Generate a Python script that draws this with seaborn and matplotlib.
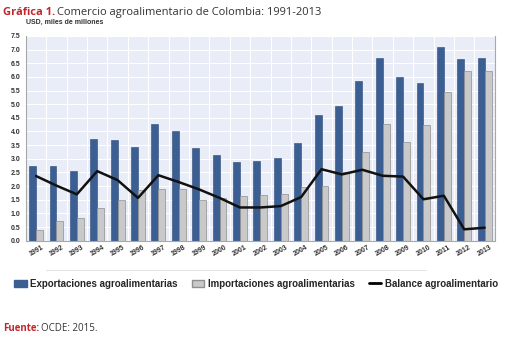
import numpy as np
import pandas as pd
import seaborn as sns
import matplotlib.pyplot as plt
from matplotlib.patches import Patch
from matplotlib.lines import Line2D

# datos (USD, miles de millones)
years = [str(y) for y in range(1991, 2014)]
exportaciones = [2.75, 2.73, 2.56, 3.73, 3.68, 3.42, 4.28, 4.03, 3.38, 3.13, 2.88, 2.92,
                 3.02, 3.58, 4.62, 4.93, 5.85, 6.68, 5.98, 5.78, 7.10, 6.67, 6.70]
importaciones = [0.38, 0.72, 0.85, 1.19, 1.48, 1.85, 1.88, 1.88, 1.50, 1.57, 1.65, 1.68,
                 1.73, 1.97, 2.00, 2.50, 3.25, 4.28, 3.62, 4.25, 5.45, 6.22, 6.22]
balance = [2.37, 2.02, 1.70, 2.55, 2.22, 1.57, 2.40, 2.15, 1.88, 1.57, 1.22, 1.22,
           1.27, 1.60, 2.62, 2.43, 2.60, 2.38, 2.35, 1.52, 1.65, 0.42, 0.48]
series = ['Exportaciones agroalimentarias', 'Importaciones agroalimentarias']

azul = '#3b5f93'
gris = '#c9c9c9'
rojo = '#c0282d'

df = pd.DataFrame({'Año': years * 2,
                   'Valor': exportaciones + importaciones,
                   'Serie': [series[0]] * len(years) + [series[1]] * len(years)})

sns.set_style('white')
plt.rcParams['font.family'] = ['Liberation Sans', 'DejaVu Sans']

fig = plt.figure(figsize=(5.07, 3.48), dpi=100)
ax = fig.add_axes([0.051, 0.308, 0.925, 0.589])
ax.set_facecolor('#e9edf7')

sns.barplot(data=df, x='Año', y='Valor', hue='Serie', palette=[azul, gris],
            width=0.68, ax=ax, legend=False, saturation=1)
for p in ax.patches[len(years):2 * len(years)]:
    p.set_edgecolor('#8f8f8f')
    p.set_linewidth(0.5)
for p in ax.patches[:len(years)]:
    p.set_edgecolor('#2c4a78')
    p.set_linewidth(0.4)

sns.lineplot(x=np.arange(len(years)), y=balance, color='#111111', lw=1.8, ax=ax)

ax.set_ylim(0, 7.5)
ax.set_xlim(-0.5, len(years) - 0.5)
ax.set_yticks(np.arange(0, 7.51, 0.5))
ax.set_yticklabels([f'{v:.1f}' for v in np.arange(0, 7.51, 0.5)], fontsize=5,
                   fontweight='bold', color='#333333')
ax.set_xticks(np.arange(len(years)))
ax.set_xticklabels(years, rotation=30, fontsize=5, fontweight='bold', color='#333333')
ax.set_xticks(np.arange(len(years)) + 0.5, minor=True)
ax.tick_params(axis='x', which='major', length=0, pad=2)
ax.tick_params(axis='x', which='minor', length=3, color='#999999')
ax.tick_params(axis='y', length=2, pad=2, color='#999999')
ax.set_xlabel('')
ax.set_ylabel('')
ax.set_axisbelow(True)
ax.grid(axis='y', color='white', lw=0.8)
ax.grid(axis='x', which='minor', color='white', lw=0.8)
for s in ax.spines.values():
    s.set_color('#a8a8a8')
    s.set_linewidth(0.8)
ax.spines['top'].set_visible(False)

renderer = fig.canvas.get_renderer()


def texto_doble(x, y, rojo_txt, resto, size):
    t = fig.text(x, y, rojo_txt, color=rojo, fontsize=size, fontweight='bold',
                 family=['Open Sans', 'DejaVu Sans'], va='center')
    bb = t.get_window_extent(renderer).transformed(fig.transFigure.inverted())
    fig.text(bb.x1 + 0.004, y, resto, color='#333333', fontsize=size,
             family=['Open Sans', 'DejaVu Sans'], va='center')


# títulos
texto_doble(0.006, 0.965, 'Gráfica 1.', 'Comercio agroalimentario de Colombia: 1991-2013', 8)
fig.text(0.051, 0.937, 'USD, miles de millones', fontsize=5, fontweight='bold',
         color='#333333', va='center')

# leyenda
fig.add_artist(Line2D([0.09, 0.84], [0.225, 0.225], color='#e4e4e4', lw=0.8))
handles = [Patch(facecolor=azul, edgecolor=azul),
           Patch(facecolor=gris, edgecolor='#8f8f8f'),
           Line2D([0], [0], color='black', lw=2)]
labels = ['Exportaciones agroalimentarias', 'Importaciones agroalimentarias',
          'Balance agroalimentario']
fig.legend(handles, labels, loc='center', bbox_to_anchor=(0.505, 0.185), ncol=3,
           frameon=False, prop={'size': 7, 'weight': 'bold'}, handlelength=1.3,
           handletextpad=0.4, columnspacing=1.4)

texto_doble(0.006, 0.057, 'Fuente:', 'OCDE: 2015.', 7)

fig.savefig('out.png', dpi=100)
